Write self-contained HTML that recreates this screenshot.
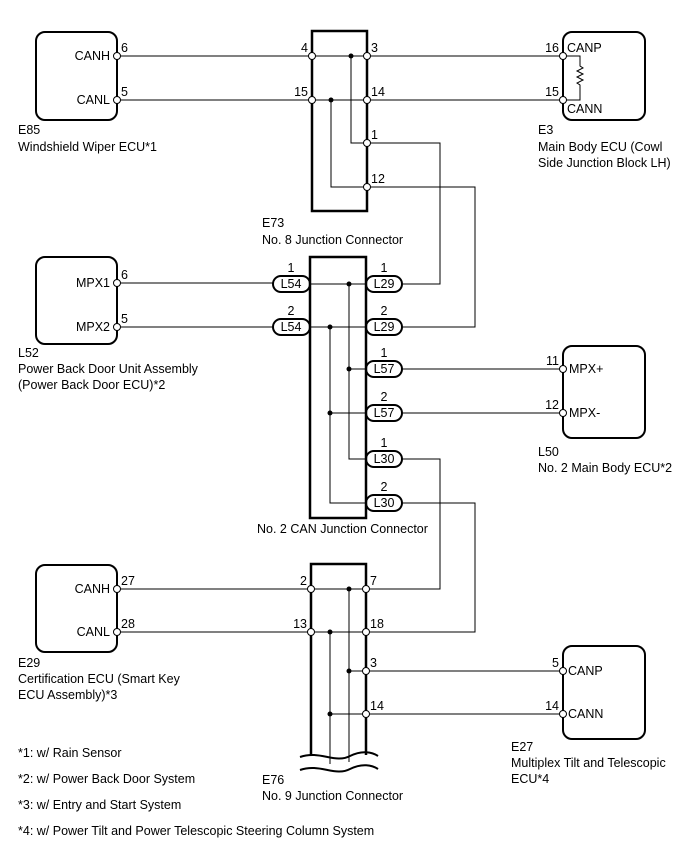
<!DOCTYPE html>
<html><head><meta charset="utf-8"><style>
html,body{margin:0;padding:0;background:#fff}
svg{display:block}
text{font-family:"Liberation Sans",Arial,sans-serif;font-size:12.5px;fill:#000}
</style></head><body>
<svg width="689" height="854" viewBox="0 0 689 854" xmlns="http://www.w3.org/2000/svg">
<g fill="none" stroke="#000" stroke-width="1">
<rect x="36" y="32" width="81" height="88" rx="9" stroke-width="2"/>
<rect x="563" y="32" width="82" height="88" rx="9" stroke-width="2"/>
<rect x="36" y="257" width="81" height="87" rx="9" stroke-width="2"/>
<rect x="563" y="346" width="82" height="92" rx="9" stroke-width="2"/>
<rect x="36" y="565" width="81" height="87" rx="9" stroke-width="2"/>
<rect x="563" y="646" width="82" height="93" rx="9" stroke-width="2"/>
<rect x="312" y="31" width="55" height="180" stroke-width="2.5"/>
<rect x="310" y="257" width="56" height="261" stroke-width="2.5"/>
<path d="M311 755 V564 H366 V755" stroke-width="2.5"/>
<path d="M117 56 H563 M117 100 H563"/>
<path d="M351 56 V143 H367 M331 100 V187 H367"/>
<path d="M367 143 H440 V284 H402 M367 187 H475 V327 H402"/>
<path d="M563 56 H580 V66 l3 2 -6 3 6 3 -6 3 6 3 -6 3 3 2 V100 H563"/>
<path d="M117 283 H273 M117 327 H273"/>
<path d="M310 284 H366 M310 327 H366"/>
<path d="M349 284 V459 H366 M330 327 V503 H366"/>
<path d="M349 369 H366 M330 413 H366"/>
<path d="M402 369 H563 M402 413 H563"/>
<path d="M402 459 H440 V589 H366 M402 503 H475 V632 H366"/>
<path d="M117 589 H311 M117 632 H311 M311 589 H366 M311 632 H366"/>
<path d="M349 589 V762 M330 632 V764"/>
<path d="M349 671 H366 M330 714 H366"/>
<path d="M366 671 H563 M366 714 H563"/>
<path d="M300 757 C320 750 335 764 350 756 C362 750 372 752 378 756" stroke-width="2"/>
<path d="M300 770 C320 763 335 777 350 769 C362 763 372 765 378 769" stroke-width="2"/>
<g stroke-width="2">
<rect x="273" y="276" width="37" height="16" rx="8"/>
<rect x="273" y="319" width="37" height="16" rx="8"/>
<rect x="366" y="276" width="36" height="16" rx="8"/>
<rect x="366" y="319" width="36" height="16" rx="8"/>
<rect x="366" y="361" width="36" height="16" rx="8"/>
<rect x="366" y="405" width="36" height="16" rx="8"/>
<rect x="366" y="451" width="36" height="16" rx="8"/>
<rect x="366" y="495" width="36" height="16" rx="8"/>
</g>
</g>
<g fill="#fff" stroke="#000" stroke-width="1">
<circle cx="117" cy="56" r="3.5"/><circle cx="117" cy="100" r="3.5"/>
<circle cx="312" cy="56" r="3.5"/><circle cx="312" cy="100" r="3.5"/>
<circle cx="367" cy="56" r="3.5"/><circle cx="367" cy="100" r="3.5"/>
<circle cx="367" cy="143" r="3.5"/><circle cx="367" cy="187" r="3.5"/>
<circle cx="563" cy="56" r="3.5"/><circle cx="563" cy="100" r="3.5"/>
<circle cx="117" cy="283" r="3.5"/><circle cx="117" cy="327" r="3.5"/>
<circle cx="563" cy="369" r="3.5"/><circle cx="563" cy="413" r="3.5"/>
<circle cx="117" cy="589" r="3.5"/><circle cx="117" cy="632" r="3.5"/>
<circle cx="311" cy="589" r="3.5"/><circle cx="311" cy="632" r="3.5"/>
<circle cx="366" cy="589" r="3.5"/><circle cx="366" cy="632" r="3.5"/>
<circle cx="366" cy="671" r="3.5"/><circle cx="366" cy="714" r="3.5"/>
<circle cx="563" cy="671" r="3.5"/><circle cx="563" cy="714" r="3.5"/>
</g>
<g fill="#000">
<circle cx="351" cy="56" r="2.5"/><circle cx="331" cy="100" r="2.5"/>
<circle cx="349" cy="284" r="2.5"/><circle cx="330" cy="327" r="2.5"/>
<circle cx="349" cy="369" r="2.5"/><circle cx="330" cy="413" r="2.5"/>
<circle cx="349" cy="589" r="2.5"/><circle cx="330" cy="632" r="2.5"/>
<circle cx="349" cy="671" r="2.5"/><circle cx="330" cy="714" r="2.5"/>
</g>
<g text-anchor="end">
<text x="110" y="60">CANH</text><text x="110" y="104">CANL</text>
<text x="110" y="287">MPX1</text><text x="110" y="331">MPX2</text>
<text x="110" y="593">CANH</text><text x="110" y="636">CANL</text>
</g>
<text x="567" y="52">CANP</text><text x="567" y="113">CANN</text>
<text x="569" y="373">MPX+</text><text x="569" y="417">MPX-</text>
<text x="568" y="675">CANP</text><text x="568" y="718">CANN</text>
<text x="121" y="52">6</text><text x="121" y="96">5</text>
<text x="121" y="279">6</text><text x="121" y="323">5</text>
<text x="121" y="585">27</text><text x="121" y="628">28</text>
<g text-anchor="end">
<text x="308" y="52">4</text><text x="308" y="96">15</text>
<text x="559" y="52">16</text><text x="559" y="96">15</text>
<text x="559" y="365">11</text><text x="559" y="409">12</text>
<text x="307" y="585">2</text><text x="307" y="628">13</text>
<text x="559" y="667">5</text><text x="559" y="710">14</text>
</g>
<text x="371" y="52">3</text><text x="371" y="96">14</text>
<text x="371" y="139">1</text><text x="371" y="183">12</text>
<text x="370" y="585">7</text><text x="370" y="628">18</text>
<text x="370" y="667">3</text><text x="370" y="710">14</text>
<g text-anchor="middle">
<text x="291" y="272">1</text><text x="291" y="315">2</text>
<text x="384" y="272">1</text><text x="384" y="315">2</text>
<text x="384" y="357">1</text><text x="384" y="401">2</text>
<text x="384" y="447">1</text><text x="384" y="491">2</text>
<text x="291" y="288">L54</text><text x="291" y="331">L54</text>
<text x="384" y="288">L29</text><text x="384" y="331">L29</text>
<text x="384" y="373">L57</text><text x="384" y="417">L57</text>
<text x="384" y="463">L30</text><text x="384" y="507">L30</text>
</g>
<text x="18" y="134">E85</text><text x="18" y="151">Windshield Wiper ECU*1</text>
<text x="538" y="134">E3</text><text x="538" y="151">Main Body ECU (Cowl</text><text x="538" y="167">Side Junction Block LH)</text>
<text x="262" y="227">E73</text><text x="262" y="244">No. 8 Junction Connector</text>
<text x="18" y="357">L52</text><text x="18" y="373">Power Back Door Unit Assembly</text><text x="18" y="389">(Power Back Door ECU)*2</text>
<text x="538" y="456">L50</text><text x="538" y="472">No. 2 Main Body ECU*2</text>
<text x="257" y="533">No. 2 CAN Junction Connector</text>
<text x="18" y="667">E29</text><text x="18" y="683">Certification ECU (Smart Key</text><text x="18" y="699">ECU Assembly)*3</text>
<text x="511" y="751">E27</text><text x="511" y="767">Multiplex Tilt and Telescopic</text><text x="511" y="783">ECU*4</text>
<text x="262" y="784">E76</text><text x="262" y="800">No. 9 Junction Connector</text>
<text x="18" y="757">*1: w/ Rain Sensor</text>
<text x="18" y="783">*2: w/ Power Back Door System</text>
<text x="18" y="809">*3: w/ Entry and Start System</text>
<text x="18" y="835">*4: w/ Power Tilt and Power Telescopic Steering Column System</text>
</svg>
</body></html>
